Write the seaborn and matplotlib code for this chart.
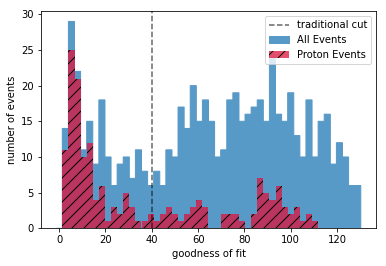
import numpy as np
import pandas as pd
import matplotlib
matplotlib.use("Agg")
import matplotlib.pyplot as plt
import seaborn as sns

# bin edges of the histogram (50 bins)
bin_start = -1.2
bin_stop = 130.2
n_bins = 50

all_counts = [0, 14, 29, 22, 11, 15, 9, 18, 10, 6,
              9, 10, 7, 11, 8, 6, 8, 6, 11, 10,
              17, 14, 20, 15, 18, 15, 10, 11, 18, 19,
              15, 16, 17, 18, 15, 24, 16, 15, 19, 13,
              10, 18, 10, 15, 16, 9, 12, 10, 6, 6]
proton_counts = [0, 11, 25, 21, 10, 12, 4, 6, 1, 3,
                 2, 5, 3, 1, 1, 2, 1, 2, 3, 2,
                 1, 2, 3, 4, 3, 0, 0, 2, 2, 2,
                 1, 0, 2, 7, 5, 4, 6, 3, 2, 3,
                 1, 2, 1, 0, 0, 0, 0, 0, 0, 0]
cut_value = 40

edges = np.linspace(bin_start, bin_stop, n_bins + 1)
centers = (edges[:-1] + edges[1:]) / 2
df = pd.DataFrame({'fit': centers, 'all': all_counts, 'proton': proton_counts})

plt.rcParams['font.family'] = ['DejaVu Sans']
dpi = 72
fig = plt.figure(figsize=(386 / dpi, 266 / dpi), dpi=dpi)
ax = fig.add_axes([41 / 386, 1 - 228.3 / 266, 335 / 386, 217.2 / 266])

blue = '#5799c7'  # tab:blue at 75% opacity on white
ax.axvline(cut_value, color='k', alpha=0.6, linestyle='--', linewidth=1.5,
           label='traditional cut')
sns.histplot(data=df, x='fit', weights='all', bins=n_bins,
             binrange=(bin_start, bin_stop), ax=ax,
             color=blue, alpha=1, linewidth=1.0, edgecolor=blue, snap=False,
             label='All Events')
sns.histplot(data=df, x='fit', weights='proton', bins=n_bins,
             binrange=(bin_start, bin_stop), ax=ax,
             color='crimson', alpha=0.75, linewidth=0, edgecolor='k',
             hatch='//', label='Proton Events')

span = bin_stop - bin_start
ax.set_xlim(bin_start - 0.05 * span, bin_stop + 0.05 * span)
ax.set_ylim(0, 29 * 1.05)
ax.set_xticks([0, 20, 40, 60, 80, 100, 120])
ax.set_yticks([0, 5, 10, 15, 20, 25, 30])
ax.set_xlabel('goodness of fit', fontsize=10)
ax.set_ylabel('number of events', fontsize=10)
ax.tick_params(labelsize=10)
ax.legend(loc='upper right', fontsize=10)

fig.savefig('out.png', dpi=dpi)
